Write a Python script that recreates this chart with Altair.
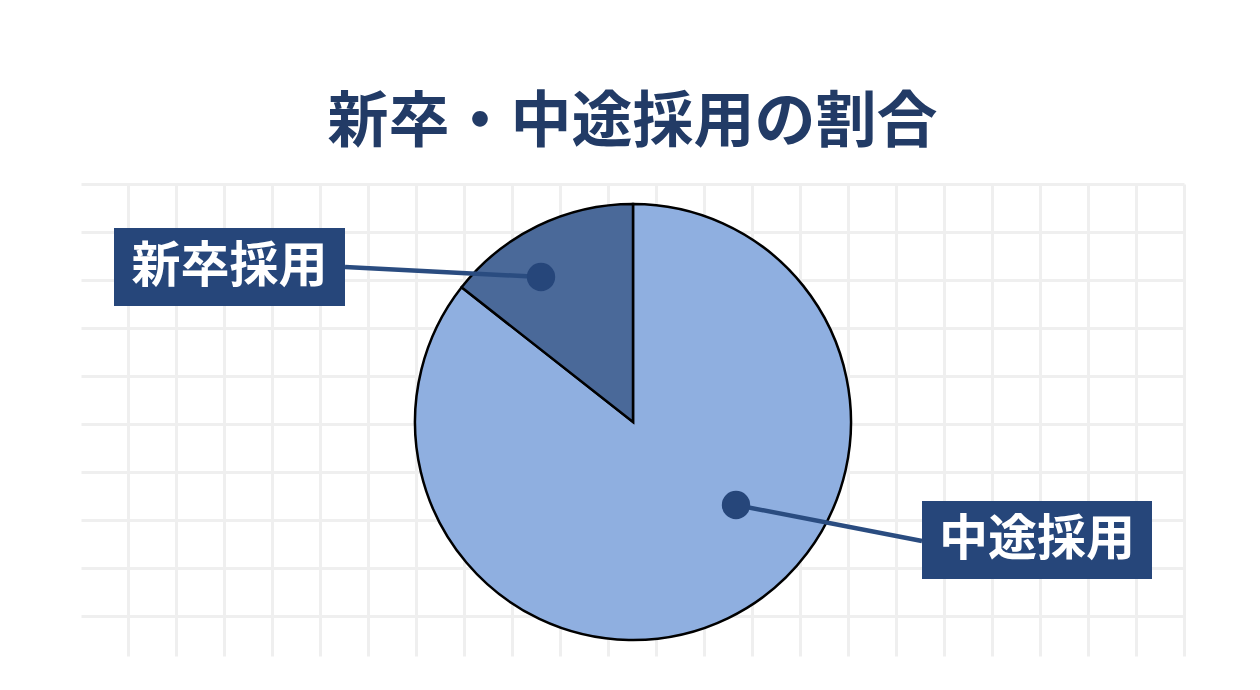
import altair as alt
import pandas as pd

# ---- data ----
categories = ["中途採用", "新卒採用"]
shares = [85.6, 14.4]
slice_colors = ["#8FAFE0", "#4A6999"]
title_text = "新卒・中途採用の割合"

# ---- layout (page pixel units) ----
grid_x = list(range(128, 1185, 48))
grid_y = list(range(184, 617, 48))
pie_center = (633, 422)
pie_radius = 218
label_layout = {
    "新卒採用": dict(bx=114, bx2=345, by=228, by2=306, dot_x=541, dot_y=277, lx=345, ly=267),
    "中途採用": dict(bx=922, bx2=1152, by=501, by2=579, dot_x=736, dot_y=505, lx=922, ly=541),
}

FONT = "Noto Sans CJK JP"
NAVY = "#26467A"

pie_df = pd.DataFrame({"category": categories, "share": shares, "idx": list(range(len(categories)))})
lab_rows = []
for c in categories:
    d = dict(label_layout[c])
    d["category"] = c
    lab_rows.append(d)
lab_df = pd.DataFrame(lab_rows)

xs = alt.Scale(domain=[81, 1184], nice=False, zero=False)
ys = alt.Scale(domain=[184, 656], reverse=True, nice=False, zero=False)
x_axis = alt.Axis(values=grid_x, grid=True, labels=False, ticks=False, domain=False,
                  title=None, gridColor="#EFEFEF", gridWidth=3)
y_axis = alt.Axis(values=grid_y, grid=True, labels=False, ticks=False, domain=False,
                  title=None, gridColor="#EFEFEF", gridWidth=3)

pie = alt.Chart(pie_df).mark_arc(
    outerRadius=pie_radius, stroke="black", strokeWidth=2.5, strokeJoin="miter"
).encode(
    theta=alt.Theta("share:Q", stack=True),
    color=alt.Color("category:N", scale=alt.Scale(domain=categories, range=slice_colors), legend=None),
    order=alt.Order("idx:Q"),
    x=alt.X(datum=pie_center[0], scale=xs, axis=x_axis),
    y=alt.Y(datum=pie_center[1], scale=ys, axis=y_axis),
)

lab = alt.Chart(lab_df)

connectors = lab.mark_rule(color="#2A4C80", strokeWidth=4.5).encode(
    x=alt.X("lx:Q", scale=xs, axis=x_axis), x2="dot_x:Q",
    y=alt.Y("ly:Q", scale=ys, axis=y_axis), y2="dot_y:Q",
)

dots = lab.mark_circle(color=NAVY, opacity=1, size=804).encode(
    x=alt.X("dot_x:Q", scale=xs, axis=x_axis),
    y=alt.Y("dot_y:Q", scale=ys, axis=y_axis),
)

boxes = lab.mark_rect(color=NAVY).encode(
    x=alt.X("bx:Q", scale=xs, axis=x_axis), x2="bx2:Q",
    y=alt.Y("by:Q", scale=ys, axis=y_axis), y2="by2:Q",
)

texts = lab.transform_calculate(
    tx="(datum.bx + datum.bx2) / 2", ty="(datum.by + datum.by2) / 2"
).mark_text(
    font=FONT, fontSize=49, fontWeight="bold", color="white", align="center", baseline="middle"
).encode(
    x=alt.X("tx:Q", scale=xs, axis=x_axis),
    y=alt.Y("ty:Q", scale=ys, axis=y_axis),
    text="category:N",
)

chart = alt.layer(pie, connectors, dots, boxes, texts).properties(
    width=1103,
    height=472,
    autosize=alt.AutoSizeParams(type="none"),
    padding={"left": 73, "top": 176, "right": 68, "bottom": 26},
    title=alt.TitleParams(
        text=title_text, font=FONT, fontSize=61, fontWeight="bold", color="#223B66",
        anchor="middle", offset=-32, baseline="bottom",
    ),
    background="white",
).configure_view(stroke=None)

chart.save("out.html", embed_options={"renderer": "svg", "actions": False})
